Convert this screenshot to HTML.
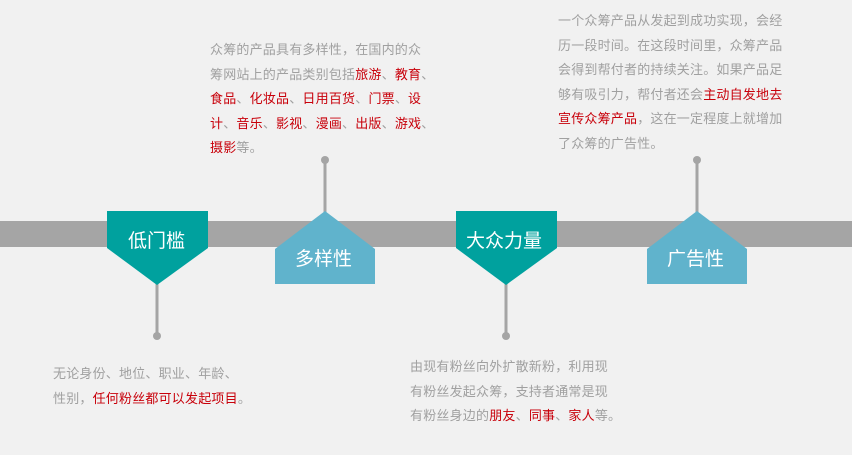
<!DOCTYPE html><html><head><meta charset="utf-8"><style>
body{margin:0;width:852px;height:455px;background:#f1f1f1;position:relative;overflow:hidden;font-family:"Liberation Sans","Noto Sans CJK SC",sans-serif}
.t{position:absolute;font-size:13px;color:#a0a0a0;white-space:nowrap;line-height:24.5px;letter-spacing:0.2px}
.t b{font-weight:normal;color:#c8000a}
.l{position:absolute;font-size:19px;color:#fff;white-space:nowrap}
</style></head><body>
<svg width="852" height="455" style="position:absolute;left:0;top:0">
<rect x="0" y="221" width="852" height="26" fill="#a5a5a5"/>
<g stroke="#a5a5a5" stroke-width="3"><line x1="157" y1="280" x2="157" y2="336"/><line x1="506" y1="280" x2="506" y2="336"/><line x1="325" y1="160" x2="325" y2="215"/><line x1="697" y1="160" x2="697" y2="215"/></g>
<g fill="#a5a5a5"><circle cx="157" cy="336" r="4"/><circle cx="506" cy="336" r="4"/><circle cx="325" cy="160" r="4"/><circle cx="697" cy="160" r="4"/></g>
<polygon points="107,211 208,211 208,248 157,285 107,248" fill="#00a19e"/>
<polygon points="456,211 557,211 557,248 506,285 456,248" fill="#00a19e"/>
<polygon points="325,211 375,249 375,284 275,284 275,249" fill="#60b3cc"/>
<polygon points="697,211 747,249 747,284 647,284 647,249" fill="#60b3cc"/>
</svg>
<div class="l" style="left:128px;top:226px">低门槛</div>
<div class="l" style="left:466px;top:226px">大众力量</div>
<div class="l" style="left:295px;top:244px">多样性</div>
<div class="l" style="left:667px;top:244px">广告性</div>
<div class="t" style="left:210px;top:38px">众筹的产品具有多样性，在国内的众<br>筹网站上的产品类别包括<b>旅游</b>、<b>教育</b>、<br><b>食品</b>、<b>化妆品</b>、<b>日用百货</b>、<b>门票</b>、<b>设<br>计</b>、<b>音乐</b>、<b>影视</b>、<b>漫画</b>、<b>出版</b>、<b>游戏</b>、<br><b>摄影</b>等。</div>
<div class="t" style="left:558px;top:9px">一个众筹产品从发起到成功实现，会经<br>历一段时间。在这段时间里，众筹产品<br>会得到帮付者的持续关注。如果产品足<br>够有吸引力，帮付者还会<b>主动自发地去<br>宣传众筹产品</b>，这在一定程度上就增加<br>了众筹的广告性。</div>
<div class="t" style="left:53px;top:362px">无论身份、地位、职业、年龄、<br>性别，<b>任何粉丝都可以发起项目</b>。</div>
<div class="t" style="left:410px;top:355px">由现有粉丝向外扩散新粉，利用现<br>有粉丝发起众筹，支持者通常是现<br>有粉丝身边的<b>朋友</b>、<b>同事</b>、<b>家人</b>等。</div>
</body></html>
